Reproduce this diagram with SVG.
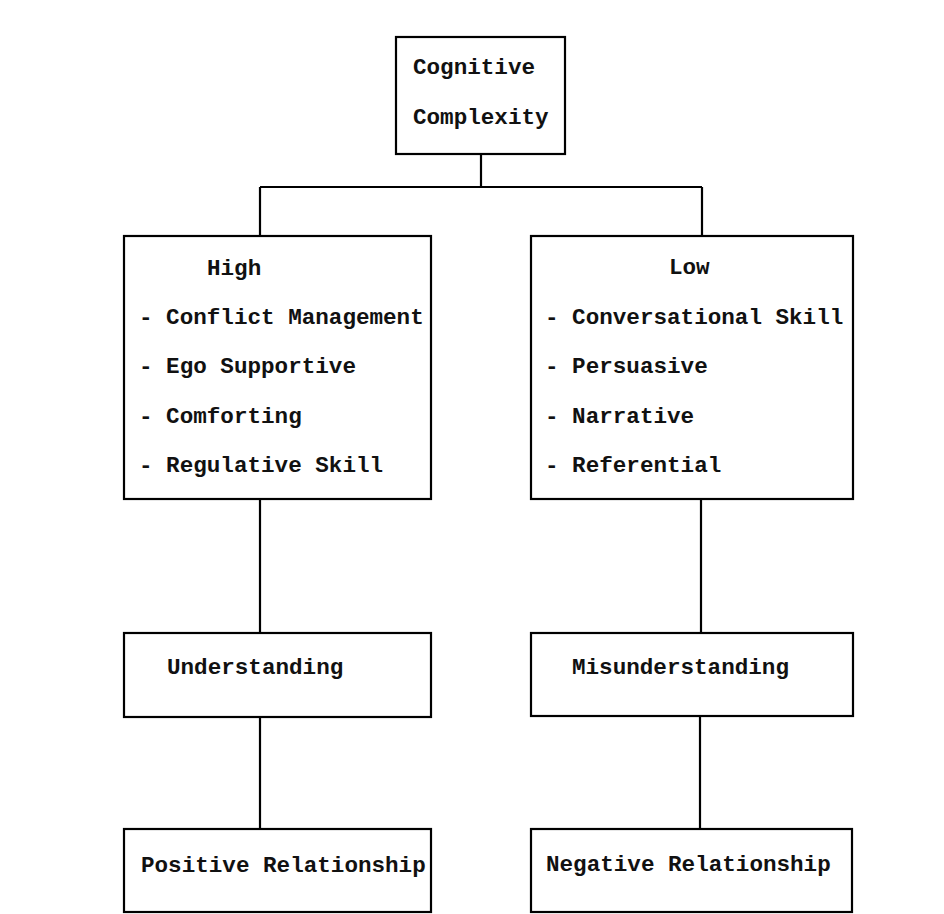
<svg xmlns="http://www.w3.org/2000/svg" width="944" height="914" viewBox="0 0 944 914">
<style>
.box{fill:#fff;stroke:#000;stroke-width:2.2}
.ln{fill:none;stroke:#000;stroke-width:2.2}
text{font-family:"Liberation Mono","Courier New",monospace;font-size:22.6px;font-weight:bold;fill:#111}
</style>
<rect width="944" height="914" fill="#fff"/>
<g id="connectors">
<path class="ln" d="M481,154 V187 M260,187 H702 M260,187 V236 M702,187 V236"/>
<path class="ln" d="M260,499 V633 M701,499 V633"/>
<path class="ln" d="M260,717 V829 M700,716 V829"/>
</g>
<g id="n-cognitive">
<rect class="box" x="396" y="37" width="169" height="117"/>
<text x="413" y="74">Cognitive</text>
<text x="413" y="124">Complexity</text>
</g>
<g id="n-high">
<rect class="box" x="124" y="236" width="307" height="263"/>
<text x="207" y="275">High</text>
<text x="139" y="324">- Conflict Management</text>
<text x="139" y="373">- Ego Supportive</text>
<text x="139" y="423">- Comforting</text>
<text x="139" y="472">- Regulative Skill</text>
</g>
<g id="n-low">
<rect class="box" x="531" y="236" width="322" height="263"/>
<text x="669" y="274">Low</text>
<text x="545" y="324">- Conversational Skill</text>
<text x="545" y="373">- Persuasive</text>
<text x="545" y="423">- Narrative</text>
<text x="545" y="472">- Referential</text>
</g>
<g id="n-understanding">
<rect class="box" x="124" y="633" width="307" height="84"/>
<text x="167" y="674">Understanding</text>
</g>
<g id="n-misunderstanding">
<rect class="box" x="531" y="633" width="322" height="83"/>
<text x="572" y="674">Misunderstanding</text>
</g>
<g id="n-positive">
<rect class="box" x="124" y="829" width="307" height="83"/>
<text x="141" y="872">Positive Relationship</text>
</g>
<g id="n-negative">
<rect class="box" x="531" y="829" width="321" height="83"/>
<text x="546" y="871">Negative Relationship</text>
</g>
</svg>
